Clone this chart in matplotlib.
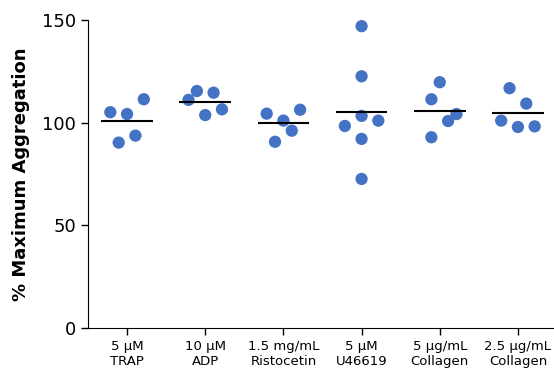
import numpy as np
import matplotlib
matplotlib.use("Agg")
from matplotlib import pyplot as plt

# 分组标签
labels = ["5 µM\nTRAP", "10 µM\nADP", "1.5 mg/mL\nRistocetin",
          "5 µM\nU46619", "5 µg/mL\nCollagen", "2.5 µg/mL\nCollagen"]

# 每组数据 (% Maximum Aggregation)
trap = [105.1, 104.2, 111.4, 90.3, 93.7]
adp = [111.1, 115.4, 103.7, 114.6, 106.5]
ristocetin = [104.4, 90.7, 101.0, 96.1, 106.3]
u46619 = [147.0, 122.6, 103.3, 98.4, 101.0, 92.1, 72.6]
collagen5 = [119.7, 111.4, 104.2, 100.8, 92.9]
collagen25 = [116.8, 109.3, 101.0, 97.9, 98.2]
groups = [trap, adp, ristocetin, u46619, collagen5, collagen25]

# 散点水平错位（槽位）
slots = [
    [-2, 0, 2, -1, 1],
    [-2, -1, 0, 1, 2],
    [-2, -1, 0, 1, 2],
    [0, 0, 0, -2, 2, 0, 0],
    [0, -1, 2, 1, -1],
    [-1, 1, -2, 0, 2],
]

fig = plt.figure(figsize=(5.54, 3.74), dpi=100)
ax = fig.add_axes([0.1588, 0.123, 0.8466, 0.8235])

blue = "#4472C4"
step = 0.107
for i, (vals, sl) in enumerate(zip(groups, slots)):
    x = i + np.array(sl) * step
    ax.scatter(x, vals, s=78, color=blue, edgecolors="none", zorder=3, clip_on=False)
    ax.hlines(np.mean(vals), i - 0.33, i + 0.33, color="black", lw=1.5, zorder=4)

ax.set_xlim(-0.5, 5.5)
ax.set_ylim(0, 150)
ax.set_yticks([0, 50, 100, 150])
ax.set_xticks(range(len(labels)))
ax.set_xticklabels(labels, fontsize=9.5, linespacing=1.25)
ax.tick_params(axis="y", labelsize=13, length=5, width=1)
ax.tick_params(axis="x", length=5, width=1)
ax.spines["top"].set_visible(False)
ax.spines["right"].set_visible(False)
ax.set_ylabel("% Maximum Aggregation", fontsize=13, fontweight="bold", labelpad=9)

fig.savefig("out.png", dpi=100)
